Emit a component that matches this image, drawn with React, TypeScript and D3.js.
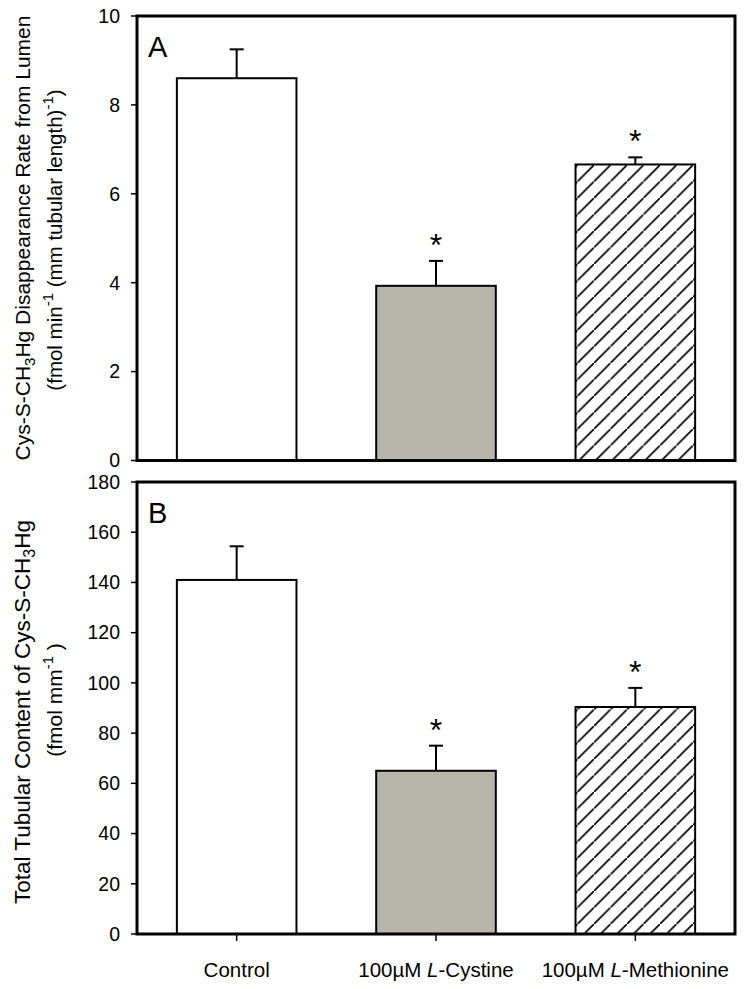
import React from "react";
import * as d3 from "d3";

const categories = ["Control", "100µM L-Cystine", "100µM L-Methionine"];
const fills = ["white", "#b6b6aa", "url(#hatch)"];

const rateMeans = [8.6, 3.93, 6.66];
const rateErrors = [0.65, 0.56, 0.16];
const rateStars = [false, true, true];
const rateTicks = [0, 2, 4, 6, 8, 10];

const contentMeans = [141, 65, 90.4];
const contentErrors = [13.4, 10, 7.6];
const contentStars = [false, true, true];
const contentTicks = [0, 20, 40, 60, 80, 100, 120, 140, 160, 180];

const W = 745;
const H = 989;
const left = 137;
const right = 735;
const font = "Arial, 'Liberation Sans', sans-serif";

const x = d3
  .scaleBand<string>()
  .domain(categories)
  .range([left, right])
  .paddingInner(0.4)
  .paddingOuter(0.2);

type PanelProps = {
  letter: string;
  means: number[];
  errors: number[];
  stars: boolean[];
  ticks: number[];
  domain: [number, number];
  top: number;
  bottom: number;
  label: React.ReactNode;
  showX?: boolean;
};

const Panel = ({ letter, means, errors, stars, ticks, domain, top, bottom, label, showX }: PanelProps) => {
  const y = d3.scaleLinear().domain(domain).range([bottom, top]);
  const bw = x.bandwidth();
  return (
    <g>
      {/* bars with error bars */}
      {categories.map((c, i) => {
        const cx = x(c)! + bw / 2;
        const yTop = y(means[i]);
        const yErr = y(means[i] + errors[i]);
        return (
          <g key={c}>
            <line x1={cx} x2={cx} y1={yTop} y2={yErr} stroke="black" strokeWidth={2} />
            <line x1={cx - 7} x2={cx + 7} y1={yErr} y2={yErr} stroke="black" strokeWidth={2} />
            <rect
              x={x(c)}
              y={yTop}
              width={bw}
              height={y(0) - yTop}
              fill={fills[i]}
              stroke="black"
              strokeWidth={2}
            />
            {stars[i] && (
              <text x={cx} y={yErr - 5} textAnchor="middle" fontSize={32} fontFamily={font}>
                *
              </text>
            )}
          </g>
        );
      })}
      {/* frame */}
      <rect x={left} y={top} width={right - left} height={bottom - top} fill="none" stroke="black" strokeWidth={3} />
      {/* y ticks */}
      {ticks.map((t) => (
        <g key={t}>
          <line x1={left - 6} x2={left} y1={y(t)} y2={y(t)} stroke="black" strokeWidth={1.5} />
          <text x={left - 17} y={y(t)} dy="0.35em" textAnchor="end" fontSize={19.5} fontFamily={font}>
            {t}
          </text>
        </g>
      ))}
      <text x={148} y={top + 41} fontSize={29} fontFamily={font}>
        {letter}
      </text>
      {showX &&
        categories.map((c) => {
          const cx = x(c)! + bw / 2;
          const parts = c.split("L-");
          return (
            <g key={c}>
              <line x1={cx} x2={cx} y1={bottom} y2={bottom + 7} stroke="black" strokeWidth={1.5} />
              <text x={cx} y={bottom + 43} textAnchor="middle" fontSize={20.5} fontFamily={font}>
                {parts.length > 1 ? (
                  <>
                    {parts[0]}
                    <tspan fontStyle="italic">L</tspan>-{parts[1]}
                  </>
                ) : (
                  c
                )}
              </text>
            </g>
          );
        })}
      {label}
    </g>
  );
};

const YLabel = ({ cx, cy, size, children }: { cx: number; cy: number; size: number; children: React.ReactNode }) => (
  <text
    transform={`translate(${cx},${cy}) rotate(-90)`}
    textAnchor="middle"
    fontSize={size}
    fontFamily={font}
  >
    {children}
  </text>
);

export default function App() {
  return (
    <svg width={W} height={H} style={{ position: "absolute", left: 0, top: 0, background: "white" }}>
      <defs>
        <pattern id="hatch" patternUnits="userSpaceOnUse" width={16.5} height={16.5}>
          <rect width={16.5} height={16.5} fill="white" />
          <line x1={-2} y1={18.5} x2={18.5} y2={-2} stroke="black" strokeWidth={1.7} />
        </pattern>
      </defs>
      <Panel
        letter="A"
        means={rateMeans}
        errors={rateErrors}
        stars={rateStars}
        ticks={rateTicks}
        domain={[0, 10]}
        top={16}
        bottom={460.5}
        label={
          <>
            <YLabel cx={30} cy={238} size={21}>
              Cys-S-CH<tspan dy={5} fontSize={15}>3</tspan>
              <tspan dy={-5}>Hg Disappearance Rate from Lumen</tspan>
            </YLabel>
            <YLabel cx={62} cy={240} size={20.5}>
              (fmol min<tspan dy={-9} fontSize={15}>-1</tspan>
              <tspan dy={9}> (mm tubular length)</tspan>
              <tspan dy={-9} fontSize={15}>-1</tspan>
              <tspan dy={9}>)</tspan>
            </YLabel>
          </>
        }
      />
      <Panel
        letter="B"
        means={contentMeans}
        errors={contentErrors}
        stars={contentStars}
        ticks={contentTicks}
        domain={[0, 180]}
        top={482}
        bottom={934}
        showX
        label={
          <>
            <YLabel cx={30} cy={712} size={22.5}>
              Total Tubular Content of Cys-S-CH<tspan dy={5} fontSize={16}>3</tspan>
              <tspan dy={-5}>Hg</tspan>
            </YLabel>
            <YLabel cx={62} cy={700} size={21}>
              (fmol mm<tspan dy={-9} fontSize={15}>-1</tspan>
              <tspan dy={9}> )</tspan>
            </YLabel>
          </>
        }
      />
    </svg>
  );
}
